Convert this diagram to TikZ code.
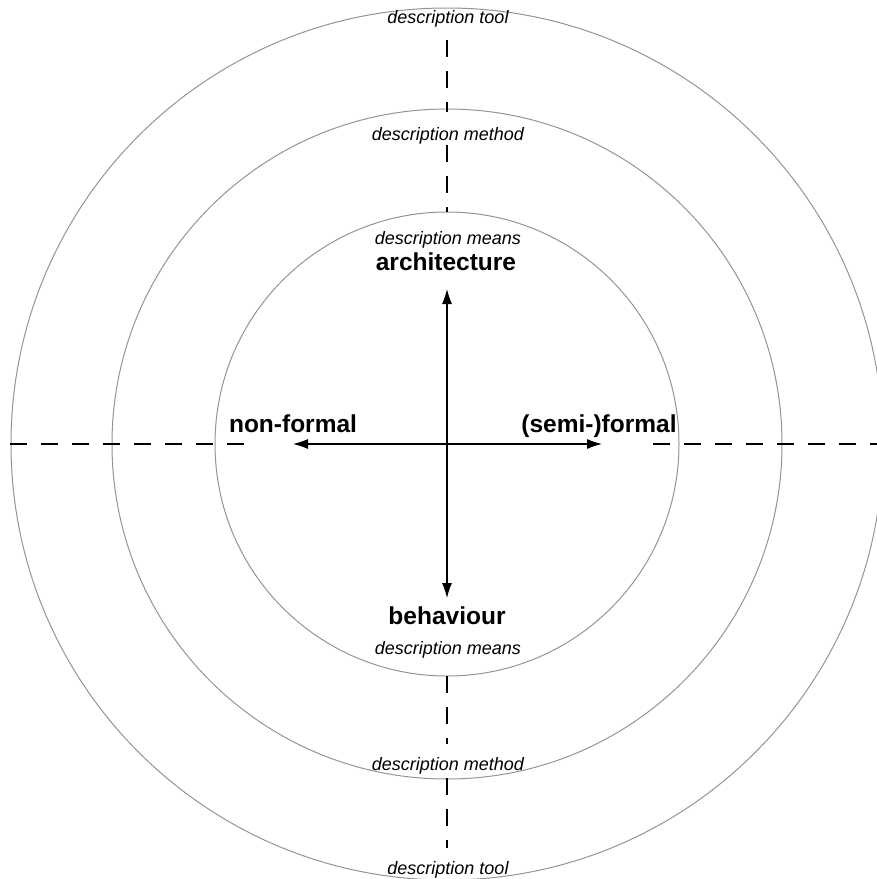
\documentclass[tikz,border=0pt]{standalone}
\usepackage{fontspec}
\setmainfont{Liberation Sans}
\usetikzlibrary{arrows.meta}
\tikzset{
  ring/.style={draw=black!42, line width=1pt},
  dashline/.style={draw=black, line width=1.1pt, dash pattern=on 17pt off 14pt},
  axis/.style={draw=black, line width=1.1pt, -{Latex[length=15pt,width=10pt]}},
  big/.style={font=\fontsize{24.5}{28}\selectfont\bfseries, anchor=base, inner sep=0pt},
  small/.style={font=\fontsize{18}{21}\selectfont\itshape, anchor=base, inner sep=0pt}
}
\begin{document}
\begin{tikzpicture}[x=1pt,y=-1pt]
\useasboundingbox (0,0) rectangle (877,879);
\clip (0,0) rectangle (877,879);
\coordinate (c) at (447,444);
% rings
\draw[ring] (c) circle[radius=436];
\draw[ring] (c) circle[radius=335];
\draw[ring] (c) circle[radius=232];
% dashed axes
\coordinate (h1) at (10,444);
\coordinate (h2) at (248,444);
\coordinate (h3) at (653,444);
\coordinate (h4) at (877,444);
\draw[dashline] (h1) -- (h2);
\draw[dashline] (h3) -- (h4);
\coordinate (v1) at (447,40);
\coordinate (v2) at (447,112);
\coordinate (v3) at (447,145);
\coordinate (v4) at (447,212);
\draw[dashline] (v1) -- (v2);
\draw[dashline] (v3) -- (v4);
\coordinate (v5) at (447,676);
\coordinate (v6) at (447,744);
\coordinate (v7) at (447,778);
\coordinate (v8) at (447,848);
\draw[dashline] (v5) -- (v6);
\draw[dashline] (v7) -- (v8);
% arrows
\coordinate (tu) at (447,289);
\coordinate (td) at (447,598);
\coordinate (tl) at (293,444);
\coordinate (tr) at (602,444);
\draw[axis] (c) -- (tu);
\draw[axis] (c) -- (td);
\draw[axis] (c) -- (tl);
\draw[axis] (c) -- (tr);
% labels
\node[big] (arch) at (446,270) {architecture};
\node[big] (beh) at (447,624) {behaviour};
\node[big] (nf) at (293,432) {non-formal};
\node[big] (sf) at (599,432) {(semi-)formal};
\node[small] (dt1) at (448,23) {description tool};
\node[small] (dm1) at (448,140) {description method};
\node[small] (dn1) at (448,244) {description means};
\node[small] (dn2) at (448,654) {description means};
\node[small] (dm2) at (448,770) {description method};
\node[small] (dt2) at (448,874) {description tool};
\end{tikzpicture}
\end{document}
